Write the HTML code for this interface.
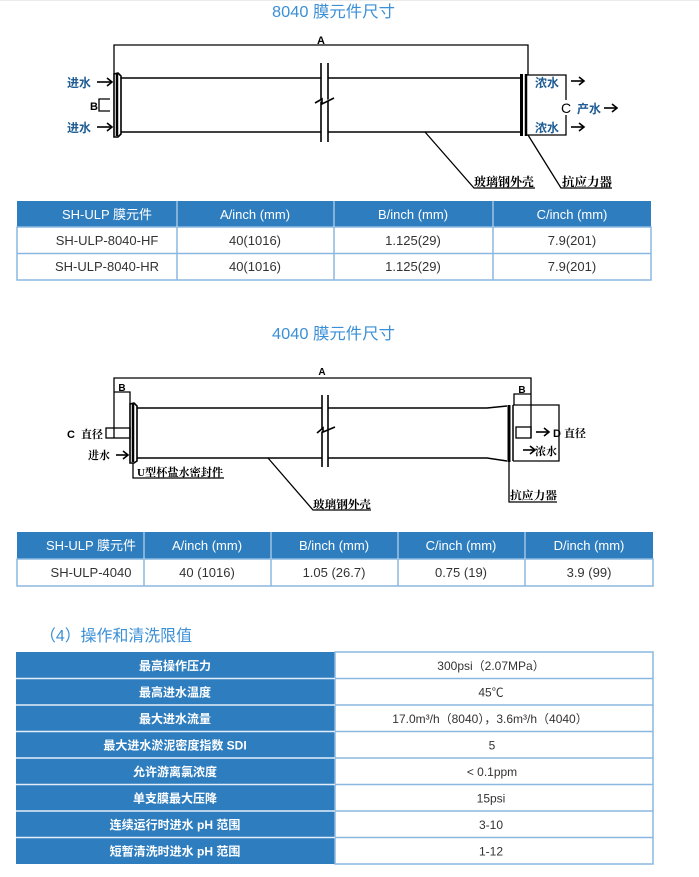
<!DOCTYPE html>
<html><head><meta charset="utf-8">
<style>
html,body{margin:0;padding:0;background:#fff;}
svg{display:block;}
.t{font-family:"Liberation Sans","Noto Sans CJK SC",sans-serif;}
.cj{font-family:"Liberation Sans","Noto Sans CJK SC",sans-serif;font-weight:bold;}
.cs{font-family:"Liberation Serif","Noto Serif CJK SC",serif;font-weight:bold;}
</style></head><body>
<svg width="699" height="877" viewBox="0 0 699 877" xmlns="http://www.w3.org/2000/svg">
<rect x="0" y="0" width="699" height="877" fill="#fff"/>
<rect x="0" y="0" width="699" height="1" fill="#eaeaea"/>

<!-- Title 1 -->
<text class="t" x="272" y="17" font-size="16" fill="#3a8fd6" textLength="123" lengthAdjust="spacingAndGlyphs">8040 膜元件尺寸</text>

<!-- ===== Diagram 8040 ===== -->
<g stroke="#000" fill="none" stroke-width="1.3">
  <polyline points="114,74 114,45 528,45 528,75"/>
  <polygon points="114,74 118,73 121,76 121,134 118,137 114,137" stroke-width="1.6"/>
  <line x1="117" y1="74" x2="117" y2="136" stroke-width="2.5"/>
  <line x1="121" y1="78" x2="321" y2="78" stroke-width="1.6"/>
  <line x1="328" y1="78" x2="521" y2="78" stroke-width="1.6"/>
  <line x1="121" y1="132" x2="321" y2="132" stroke-width="1.6"/>
  <line x1="328" y1="132" x2="521" y2="132" stroke-width="1.6"/>
  <line x1="321" y1="63" x2="321" y2="142" stroke-width="1.6"/>
  <line x1="328" y1="63" x2="328" y2="142" stroke-width="1.6"/>
  <polyline points="315,103 322,99 322,104 334,98" stroke-width="1.6" fill="#fff"/>
  <line x1="521.5" y1="74" x2="521.5" y2="136" stroke-width="3"/>
  <line x1="526" y1="74" x2="526" y2="136" stroke-width="2.5"/>
  <polyline points="527,75 566,75 566,100"/>
  <polyline points="566,115 566,135 527,135"/>
  <polyline points="110,99 99,99 99,111 110,111"/>
  <line x1="97" y1="82" x2="112" y2="82" stroke-width="1.6"/>
  <polyline points="107,78 112,82 107,86" stroke-width="1.6"/>
  <line x1="97" y1="127" x2="112" y2="127" stroke-width="1.6"/>
  <polyline points="107,123 112,127 107,131" stroke-width="1.6"/>
  <line x1="571" y1="81" x2="584" y2="81" stroke-width="1.6"/>
  <polyline points="579,77 584,81 579,85" stroke-width="1.6"/>
  <line x1="571" y1="127" x2="584" y2="127" stroke-width="1.6"/>
  <polyline points="579,123 584,127 579,131" stroke-width="1.6"/>
  <line x1="604" y1="108" x2="617" y2="108" stroke-width="1.6"/>
  <polyline points="612,104 617,108 612,112" stroke-width="1.6"/>
  <polyline points="425,132 474,188 535,188"/>
  <polyline points="528,135 561,188 612,188"/>
</g>
<text x="321" y="44" font-family="Liberation Sans,sans-serif" font-weight="bold" font-size="11" text-anchor="middle">A</text>
<text x="94" y="110" font-family="Liberation Sans,sans-serif" font-weight="bold" font-size="11" text-anchor="middle">B</text>
<text x="566" y="113" font-family="Liberation Sans,sans-serif" font-size="14" text-anchor="middle" fill="#000">C</text>
<g class="cj" font-size="12" fill="#1f5d94">
  <text x="67" y="87">进水</text>
  <text x="67" y="132">进水</text>
  <text x="535" y="87">浓水</text>
  <text x="535" y="132">浓水</text>
  <text x="577" y="113">产水</text>
</g>
<g class="cs" font-size="12" fill="#000">
  <text x="474" y="186" textLength="60" lengthAdjust="spacingAndGlyphs">玻璃钢外壳</text>
  <text x="562" y="186" textLength="50" lengthAdjust="spacingAndGlyphs">抗应力器</text>
</g>

<!-- ===== Table 1 ===== -->
<rect x="17" y="201" width="634" height="26" fill="#2e7ebf"/>
<rect x="17" y="227" width="634" height="53" fill="#fff" stroke="#8ab8e0" stroke-width="1.5"/>
<line x1="17" y1="253.5" x2="651" y2="253.5" stroke="#8ab8e0" stroke-width="1.5"/>
<g stroke="#d6e6f5" stroke-width="1">
  <line x1="177" y1="201" x2="177" y2="227"/>
  <line x1="334" y1="201" x2="334" y2="227"/>
  <line x1="493" y1="201" x2="493" y2="227"/>
</g>
<g stroke="#8ab8e0" stroke-width="1.5">
  <line x1="177" y1="227" x2="177" y2="280"/>
  <line x1="334" y1="227" x2="334" y2="280"/>
  <line x1="493" y1="227" x2="493" y2="280"/>
</g>
<g class="t" font-size="13" fill="#fff" text-anchor="middle">
  <text x="107" y="219">SH-ULP 膜元件</text>
  <text x="255" y="219">A/inch (mm)</text>
  <text x="413" y="219">B/inch (mm)</text>
  <text x="572" y="219">C/inch (mm)</text>
</g>
<g class="t" font-size="13" fill="#333" text-anchor="middle">
  <text x="107" y="245">SH-ULP-8040-HF</text>
  <text x="255" y="245">40(1016)</text>
  <text x="413" y="245">1.125(29)</text>
  <text x="572" y="245">7.9(201)</text>
  <text x="107" y="271">SH-ULP-8040-HR</text>
  <text x="255" y="271">40(1016)</text>
  <text x="413" y="271">1.125(29)</text>
  <text x="572" y="271">7.9(201)</text>
</g>

<!-- Title 2 -->
<text class="t" x="272" y="339" font-size="16" fill="#3a8fd6" textLength="123" lengthAdjust="spacingAndGlyphs">4040 膜元件尺寸</text>

<!-- ===== Diagram 4040 ===== -->
<g stroke="#000" fill="none" stroke-width="1.3">
  <polyline points="114,438 114,378 531,378 531,438"/>
  <polyline points="114,392 130,392 130,404"/>
  <rect x="106" y="428" width="24" height="10"/>
  <polygon points="130,404 134,403 137,406 137,461 134,463 130,463" stroke-width="1.6"/>
  <line x1="133" y1="404" x2="133" y2="462" stroke-width="2.5"/>
  <line x1="137" y1="408" x2="322" y2="408" stroke-width="1.6"/>
  <polyline points="328,408 487,408 507,406" stroke-width="1.6"/>
  <line x1="137" y1="458" x2="322" y2="458" stroke-width="1.6"/>
  <polyline points="328,458 487,458 507,461" stroke-width="1.6"/>
  <line x1="322" y1="395" x2="322" y2="467" stroke-width="1.6"/>
  <line x1="328" y1="395" x2="328" y2="467" stroke-width="1.6"/>
  <polyline points="317,433 323,428 323,432 335,427" stroke-width="1.6" fill="#fff"/>
  <line x1="509" y1="405" x2="509" y2="462" stroke-width="3"/>
  <line x1="513" y1="405" x2="513" y2="461" stroke-width="1.5"/>
  <polyline points="513,405 559,405 559,461 513,461"/>
  <polyline points="514,405 514,394 531,394"/>
  <rect x="516" y="427" width="15" height="11"/>
  <line x1="116" y1="455" x2="128" y2="455" stroke-width="1.6"/>
  <polyline points="123,451 128,455 123,459" stroke-width="1.6"/>
  <line x1="536" y1="432" x2="549" y2="432" stroke-width="1.6"/>
  <polyline points="544,428 549,432 544,436" stroke-width="1.6"/>
  <line x1="523" y1="450" x2="535" y2="450" stroke-width="1.6"/>
  <polyline points="530,446 535,450 530,454" stroke-width="1.6"/>
  <polyline points="509,462 509,502 557,502"/>
  <polyline points="133,463 133,478 224,478"/>
  <polyline points="268,458 313,510 371,510"/>
</g>
<text x="322" y="375" font-family="Liberation Sans,sans-serif" font-weight="bold" font-size="10" text-anchor="middle">A</text>
<text x="122" y="391" font-family="Liberation Sans,sans-serif" font-weight="bold" font-size="10" text-anchor="middle">B</text>
<text x="522" y="393" font-family="Liberation Sans,sans-serif" font-weight="bold" font-size="10" text-anchor="middle">B</text>
<text x="67" y="438" font-family="Liberation Sans,sans-serif" font-weight="bold" font-size="11">C</text>
<text x="553" y="437" font-family="Liberation Sans,sans-serif" font-weight="bold" font-size="11">D</text>
<g class="cs" font-size="11" fill="#000">
  <text x="81" y="438">直径</text>
  <text x="564" y="437">直径</text>
  <text x="88" y="459">进水</text>
  <text x="535" y="455">浓水</text>
  <text x="510" y="499" textLength="47" lengthAdjust="spacingAndGlyphs">抗应力器</text>
  <text x="137" y="476" textLength="86" lengthAdjust="spacingAndGlyphs">U型杯盐水密封件</text>
  <text x="313" y="508" textLength="58" lengthAdjust="spacingAndGlyphs">玻璃钢外壳</text>
</g>

<!-- ===== Table 2 ===== -->
<rect x="17" y="532" width="636" height="27" fill="#2e7ebf"/>
<rect x="17" y="559" width="636" height="27" fill="#fff" stroke="#8ab8e0" stroke-width="1.5"/>
<g stroke="#d6e6f5" stroke-width="1">
  <line x1="144" y1="532" x2="144" y2="559"/>
  <line x1="271" y1="532" x2="271" y2="559"/>
  <line x1="398" y1="532" x2="398" y2="559"/>
  <line x1="525" y1="532" x2="525" y2="559"/>
</g>
<g stroke="#8ab8e0" stroke-width="1.5">
  <line x1="144" y1="559" x2="144" y2="586"/>
  <line x1="271" y1="559" x2="271" y2="586"/>
  <line x1="398" y1="559" x2="398" y2="586"/>
  <line x1="525" y1="559" x2="525" y2="586"/>
</g>
<g class="t" font-size="13" fill="#fff" text-anchor="middle">
  <text x="91" y="550">SH-ULP 膜元件</text>
  <text x="207" y="550">A/inch (mm)</text>
  <text x="334" y="550">B/inch (mm)</text>
  <text x="461" y="550">C/inch (mm)</text>
  <text x="589" y="550">D/inch (mm)</text>
</g>
<g class="t" font-size="13" fill="#333" text-anchor="middle">
  <text x="91" y="577">SH-ULP-4040</text>
  <text x="207" y="577">40 (1016)</text>
  <text x="334" y="577">1.05 (26.7)</text>
  <text x="461" y="577">0.75 (19)</text>
  <text x="589" y="577">3.9 (99)</text>
</g>

<!-- Heading 4 -->
<text class="t" x="40" y="641" font-size="16" fill="#3a8fd6" textLength="152" lengthAdjust="spacingAndGlyphs">（4）操作和清洗限值</text>

<!-- ===== Table 3 ===== -->
<rect x="16" y="652" width="319" height="212" fill="#2e7ebf"/>
<rect x="335" y="652" width="318" height="212" fill="#fff" stroke="#8ab8e0" stroke-width="1.5"/>
<g stroke="#8ab8e0" stroke-width="1.5">
  <line x1="335" y1="678.5" x2="653" y2="678.5"/>
  <line x1="335" y1="705" x2="653" y2="705"/>
  <line x1="335" y1="731.5" x2="653" y2="731.5"/>
  <line x1="335" y1="758" x2="653" y2="758"/>
  <line x1="335" y1="784.5" x2="653" y2="784.5"/>
  <line x1="335" y1="811" x2="653" y2="811"/>
  <line x1="335" y1="837.5" x2="653" y2="837.5"/>
</g>
<g stroke="#e3eef8" stroke-width="1.5">
  <line x1="16" y1="678.5" x2="335" y2="678.5"/>
  <line x1="16" y1="705" x2="335" y2="705"/>
  <line x1="16" y1="731.5" x2="335" y2="731.5"/>
  <line x1="16" y1="758" x2="335" y2="758"/>
  <line x1="16" y1="784.5" x2="335" y2="784.5"/>
  <line x1="16" y1="811" x2="335" y2="811"/>
  <line x1="16" y1="837.5" x2="335" y2="837.5"/>
</g>
<g class="t" font-size="12" fill="#fff" text-anchor="middle" font-weight="bold">
  <text x="175" y="670">最高操作压力</text>
  <text x="175" y="696.5">最高进水温度</text>
  <text x="175" y="723">最大进水流量</text>
  <text x="175" y="749.5">最大进水淤泥密度指数 SDI</text>
  <text x="175" y="776">允许游离氯浓度</text>
  <text x="175" y="802.5">单支膜最大压降</text>
  <text x="175" y="829">连续运行时进水 pH 范围</text>
  <text x="175" y="855.5">短暂清洗时进水 pH 范围</text>
</g>
<g class="t" font-size="12" fill="#333" text-anchor="middle">
  <text x="491" y="670">300psi（2.07MPa）</text>
  <text x="491" y="696.5">45℃</text>
  <text x="490" y="723">17.0m³/h（8040），3.6m³/h（4040）</text>
  <text x="492" y="749.5">5</text>
  <text x="492" y="776">&lt; 0.1ppm</text>
  <text x="491" y="802.5">15psi</text>
  <text x="491" y="829">3-10</text>
  <text x="491" y="855.5">1-12</text>
</g>
</svg>
</body></html>
